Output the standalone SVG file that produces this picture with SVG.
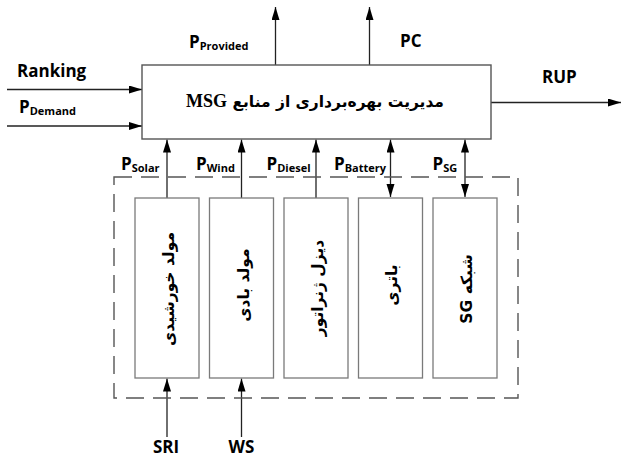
<svg xmlns="http://www.w3.org/2000/svg" width="622" height="458" viewBox="0 0 622 458">
<defs>
<style>
.box{fill:#fff;stroke:#7a7a7a;stroke-width:1.3}
.main{fill:#fff;stroke:#555;stroke-width:1.4}
.dash{fill:none;stroke:#555;stroke-width:1.4;stroke-dasharray:18 9}
.ln{fill:none;stroke:#222;stroke-width:1.3}
.lbl{font-family:"Open Sans","Liberation Sans",sans-serif;font-weight:bold;font-size:17px;fill:#000}
.sub{font-size:11px}
.fa{font-family:"DejaVu Sans",sans-serif;font-weight:bold;font-size:15.5px;fill:#000}
</style>
<marker id="ah" markerUnits="userSpaceOnUse" markerWidth="14" markerHeight="9" refX="13" refY="4" orient="auto">
<path d="M0,0 L13,4 L0,8 z" fill="#000"/>
</marker>
<marker id="ahs" markerUnits="userSpaceOnUse" markerWidth="14" markerHeight="9" refX="13" refY="4" orient="auto-start-reverse">
<path d="M0,0 L13,4 L0,8 z" fill="#000"/>
</marker>
</defs>
<rect width="622" height="458" fill="#fff"/>

<g id="connectors">
<line class="ln" x1="275.5" y1="65" x2="275.5" y2="7" marker-end="url(#ah)"/>
<line class="ln" x1="369.5" y1="65" x2="369.5" y2="7" marker-end="url(#ah)"/>
<line class="ln" x1="7" y1="89.5" x2="142" y2="89.5" marker-end="url(#ah)"/>
<line class="ln" x1="7" y1="126" x2="142" y2="126" marker-end="url(#ah)"/>
<line class="ln" x1="491" y1="102.5" x2="621" y2="102.5" marker-end="url(#ah)"/>
<line class="ln" x1="167" y1="198" x2="167" y2="139.5" marker-end="url(#ah)"/>
<line class="ln" x1="241.5" y1="198" x2="241.5" y2="139.5" marker-end="url(#ah)"/>
<line class="ln" x1="316" y1="198" x2="316" y2="139.5" marker-end="url(#ah)"/>
<line class="ln" x1="390.5" y1="197" x2="390.5" y2="139.5" marker-start="url(#ahs)" marker-end="url(#ah)"/>
<line class="ln" x1="465" y1="197" x2="465" y2="139.5" marker-start="url(#ahs)" marker-end="url(#ah)"/>
<line class="ln" x1="167" y1="437" x2="167" y2="378.5" marker-end="url(#ah)"/>
<line class="ln" x1="241.5" y1="437" x2="241.5" y2="378.5" marker-end="url(#ah)"/>
</g>

<g id="msg">
<rect class="main" x="142" y="65" width="349" height="74"/>
<text class="fa" x="315" y="107" text-anchor="middle" direction="rtl" font-size="16">مدیریت بهره‌برداری از منابع <tspan font-family="'Liberation Serif',serif" font-size="18">MSG</tspan></text>
</g>

<g id="resources">
<rect class="dash" x="114" y="177" width="404" height="221"/>
</g>

<g id="solar">
<rect class="box" x="135" y="198" width="64" height="180"/>
<text class="fa" transform="translate(174,289) rotate(-90)" text-anchor="middle" direction="rtl">مولد خورشیدی</text>
</g>
<g id="wind">
<rect class="box" x="209.5" y="198" width="64" height="180"/>
<text class="fa" transform="translate(249,285) rotate(-90)" text-anchor="middle" direction="rtl">مولد بادی</text>
</g>
<g id="diesel">
<rect class="box" x="284" y="198" width="64" height="180"/>
<text class="fa" transform="translate(323,288) rotate(-90)" text-anchor="middle" direction="rtl">دیزل ژنراتور</text>
</g>
<g id="battery">
<rect class="box" x="358.5" y="198" width="64" height="180"/>
<text class="fa" transform="translate(397,285) rotate(-90)" text-anchor="middle" direction="rtl">باتری</text>
</g>
<g id="grid">
<rect class="box" x="433" y="198" width="64" height="180"/>
<text class="fa" transform="translate(472,289) rotate(-90)" text-anchor="middle" direction="rtl">شبکه SG</text>
</g>

<g id="labels">
<text class="lbl" x="17" y="77">Ranking</text>
<text class="lbl" x="19" y="113">P<tspan class="sub" dy="2">Demand</tspan></text>
<text class="lbl" x="189" y="48">P<tspan class="sub" dy="1.5">Provided</tspan></text>
<text class="lbl" x="400" y="47">PC</text>
<text class="lbl" x="542" y="83">RUP</text>
<text class="lbl" x="121" y="170">P<tspan class="sub" dy="1.5">Solar</tspan></text>
<text class="lbl" x="196" y="170">P<tspan class="sub" dy="1.5">Wind</tspan></text>
<text class="lbl" x="266.5" y="170">P<tspan class="sub" dy="1.5">Diesel</tspan></text>
<text class="lbl" x="334" y="170">P<tspan class="sub" dy="1.5">Battery</tspan></text>
<text class="lbl" x="432.5" y="170">P<tspan class="sub" dy="1.5">SG</tspan></text>
<text class="lbl" x="166" y="453" text-anchor="middle">SRI</text>
<text class="lbl" x="241.5" y="453" text-anchor="middle">WS</text>
</g>
</svg>
